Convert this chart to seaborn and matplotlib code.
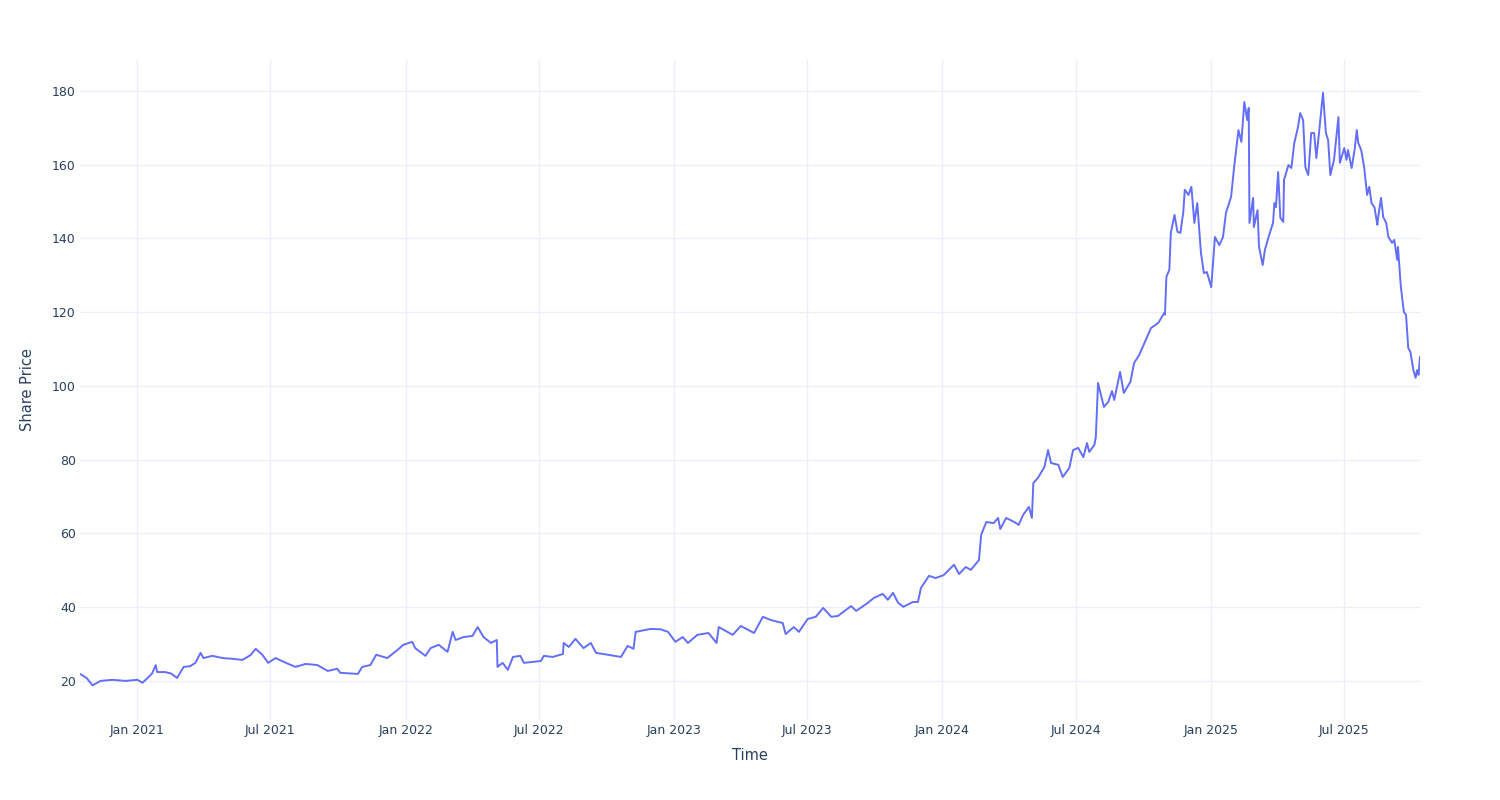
import pandas as pd
import matplotlib
matplotlib.use('Agg')
import matplotlib.pyplot as plt
import matplotlib.dates as mdates
import seaborn as sns

# values
dates = [
    '2020-10-15', '2020-10-24', '2020-11-01', '2020-11-12', '2020-11-28', '2020-12-16',
    '2021-01-01', '2021-01-08', '2021-01-15', '2021-01-21', '2021-01-26', '2021-01-28',
    '2021-02-08', '2021-02-16', '2021-02-24', '2021-03-05', '2021-03-14', '2021-03-21',
    '2021-03-28', '2021-04-01', '2021-04-13', '2021-04-27', '2021-05-10', '2021-05-24',
    '2021-06-04', '2021-06-11', '2021-06-20', '2021-06-28', '2021-07-08', '2021-07-21',
    '2021-08-04', '2021-08-18', '2021-09-03', '2021-09-17', '2021-09-30', '2021-10-04',
    '2021-10-28', '2021-11-03', '2021-11-14', '2021-11-22', '2021-12-07', '2021-12-21',
    '2021-12-29',
    '2022-01-10', '2022-01-14', '2022-01-28', '2022-02-04', '2022-02-15', '2022-02-27',
    '2022-03-06', '2022-03-10', '2022-03-21', '2022-04-02', '2022-04-09', '2022-04-17',
    '2022-04-27', '2022-05-05', '2022-05-06', '2022-05-13', '2022-05-20', '2022-05-27',
    '2022-06-06', '2022-06-11', '2022-07-04', '2022-07-08', '2022-07-20', '2022-08-03',
    '2022-08-04', '2022-08-11', '2022-08-20', '2022-08-31', '2022-09-10', '2022-09-17',
    '2022-10-03', '2022-10-21', '2022-10-30', '2022-11-07', '2022-11-10', '2022-11-30',
    '2022-12-14', '2022-12-24',
    '2023-01-03', '2023-01-13', '2023-01-20', '2023-02-02', '2023-02-17', '2023-02-28',
    '2023-03-03', '2023-03-22', '2023-04-02', '2023-04-20', '2023-05-02', '2023-05-13',
    '2023-05-29', '2023-06-02', '2023-06-13', '2023-06-20', '2023-07-02', '2023-07-13',
    '2023-07-23', '2023-08-03', '2023-08-12', '2023-08-30', '2023-09-06', '2023-09-22',
    '2023-09-30', '2023-10-12', '2023-10-19', '2023-10-26', '2023-11-02', '2023-11-09',
    '2023-11-22', '2023-11-29', '2023-12-03', '2023-12-14', '2023-12-23',
    '2024-01-03', '2024-01-17', '2024-01-24', '2024-02-02', '2024-02-09', '2024-02-20',
    '2024-02-23', '2024-03-01', '2024-03-11', '2024-03-17', '2024-03-20', '2024-03-28',
    '2024-04-08', '2024-04-14', '2024-04-20', '2024-04-28', '2024-05-02', '2024-05-04',
    '2024-05-10', '2024-05-19', '2024-05-24', '2024-05-28', '2024-06-07', '2024-06-13',
    '2024-06-22', '2024-06-27', '2024-07-04', '2024-07-11', '2024-07-16', '2024-07-19',
    '2024-07-26', '2024-07-28', '2024-07-31', '2024-08-08', '2024-08-14', '2024-08-19',
    '2024-08-22', '2024-08-30', '2024-09-04', '2024-09-13', '2024-09-18', '2024-09-25',
    '2024-10-04', '2024-10-11', '2024-10-21', '2024-10-29', '2024-10-30', '2024-11-01',
    '2024-11-05', '2024-11-07', '2024-11-12', '2024-11-16', '2024-11-20', '2024-11-24',
    '2024-11-26', '2024-12-01', '2024-12-05', '2024-12-09', '2024-12-13', '2024-12-18',
    '2024-12-22', '2024-12-26',
    '2025-01-01', '2025-01-06', '2025-01-12', '2025-01-17', '2025-01-21', '2025-01-28',
    '2025-02-01', '2025-02-07', '2025-02-11', '2025-02-15', '2025-02-19', '2025-02-21',
    '2025-02-22', '2025-02-27', '2025-02-28', '2025-03-05', '2025-03-07', '2025-03-12',
    '2025-03-15', '2025-03-20', '2025-03-26', '2025-03-28', '2025-03-30', '2025-04-02',
    '2025-04-05', '2025-04-09', '2025-04-10', '2025-04-16', '2025-04-20', '2025-04-24',
    '2025-04-29', '2025-05-02', '2025-05-06', '2025-05-09', '2025-05-13', '2025-05-17',
    '2025-05-21', '2025-05-24', '2025-05-28', '2025-06-02', '2025-06-06', '2025-06-09',
    '2025-06-12', '2025-06-17', '2025-06-23', '2025-06-25', '2025-07-01', '2025-07-04',
    '2025-07-06', '2025-07-11', '2025-07-15', '2025-07-18', '2025-07-20', '2025-07-24',
    '2025-07-28', '2025-08-01', '2025-08-04', '2025-08-07', '2025-08-11', '2025-08-15',
    '2025-08-16', '2025-08-20', '2025-08-23', '2025-08-27', '2025-08-30', '2025-09-04',
    '2025-09-07', '2025-09-11', '2025-09-12', '2025-09-16', '2025-09-20', '2025-09-23',
    '2025-09-26', '2025-09-29', '2025-10-03', '2025-10-06', '2025-10-08', '2025-10-10',
    '2025-10-12',
]

prices = [
    21.9, 20.8, 18.8, 20.0, 20.3, 20.0,
    20.3, 19.5, 20.8, 22.0, 24.3, 22.4,
    22.4, 22.0, 20.8, 23.8, 24.0, 24.9,
    27.6, 26.2, 26.8, 26.2, 26.0, 25.7,
    27.0, 28.7, 27.1, 24.9, 26.2, 25.0,
    23.8, 24.6, 24.3, 22.7, 23.3, 22.2,
    21.9, 23.8, 24.3, 27.1, 26.2, 28.4,
    29.8,
    30.6, 28.9, 26.8, 28.9, 29.8, 27.9,
    33.3, 31.1, 31.9, 32.2, 34.6, 31.9,
    30.3, 31.1, 23.8, 24.9, 23.0, 26.5,
    26.8, 24.9, 25.4, 26.8, 26.5, 27.3,
    30.3, 29.2, 31.4, 28.9, 30.3, 27.6,
    27.1, 26.5, 29.5, 28.7, 33.3, 34.1,
    34.0, 33.3,
    30.6, 31.9, 30.3, 32.5, 33.0, 30.3,
    34.6, 32.5, 34.9, 33.0, 37.4, 36.5,
    35.7, 32.7, 34.6, 33.3, 36.8, 37.4,
    39.8, 37.4, 37.6, 40.3, 39.0, 41.2,
    42.5, 43.6, 42.0, 43.9, 41.2, 40.1,
    41.4, 41.4, 45.2, 48.5, 47.9,
    48.7, 51.5, 49.0, 50.9, 50.1, 52.8,
    59.6, 63.1, 62.8, 64.2, 61.2, 64.2,
    63.1, 62.3, 65.0, 67.2, 64.2, 73.7,
    75.0, 78.0, 82.6, 79.1, 78.6, 75.3,
    77.8, 82.6, 83.2, 80.7, 84.5, 82.1,
    84.0, 86.2, 100.8, 94.3, 95.7, 98.6,
    96.2, 103.8, 98.1, 101.1, 106.2, 108.4,
    112.5, 115.7, 117.1, 119.8, 119.3, 129.6,
    131.5, 141.5, 146.4, 141.8, 141.5, 147.2,
    153.2, 151.8, 154.0, 144.2, 149.6, 136.1,
    130.6, 130.9,
    126.8, 140.4, 138.2, 140.4, 146.9, 151.3,
    159.1, 169.4, 166.2, 177.0, 172.1, 175.4,
    144.2, 151.0, 143.1, 147.7, 137.7, 132.8,
    136.9, 140.4, 144.2, 149.6, 148.5, 158.0,
    145.6, 144.5, 155.9, 159.9, 159.1, 165.9,
    170.2, 174.0, 172.1, 159.4, 157.2, 168.6,
    168.6, 161.8, 169.4, 179.5, 168.6, 166.7,
    157.2, 161.3, 172.9, 160.5, 164.5, 161.3,
    164.0, 159.1, 164.0, 169.4, 165.9, 164.0,
    159.4, 151.8, 154.0, 149.6, 148.5, 143.7,
    145.6, 151.0, 145.8, 144.2, 140.4, 138.8,
    139.6, 134.2, 137.7, 126.8, 120.1, 119.3,
    110.3, 109.2, 104.3, 102.2, 104.3, 103.0,
    107.9,
]

y_ticks = [20, 40, 60, 80, 100, 120, 140, 160, 180]
x_ticks = ['2021-01-01', '2021-07-01', '2022-01-01', '2022-07-01', '2023-01-01',
           '2023-07-01', '2024-01-01', '2024-07-01', '2025-01-01', '2025-07-01']

df = pd.DataFrame({'Time': pd.to_datetime(dates), 'Share Price': prices})

sns.set_style('white')
plt.rcParams['font.family'] = ['DejaVu Sans']
text_color = '#2a3f5f'
grid_color = '#EBF0F8'

fig = plt.figure(figsize=(15, 8), dpi=100)
ax = fig.add_axes([80 / 1500, 80 / 800, 1340 / 1500, 660 / 800])

sns.lineplot(data=df, x='Time', y='Share Price', color='#636EFA', linewidth=1.4, ax=ax)

ax.set_xlim(df['Time'].min(), df['Time'].max())
ax.set_ylim(9.4, 188.4)
ax.set_yticks(y_ticks)
ax.set_xticks(pd.to_datetime(x_ticks))
ax.xaxis.set_major_formatter(mdates.DateFormatter('%b %Y'))

ax.grid(True, color=grid_color, linewidth=1)
ax.set_axisbelow(True)
for s in ax.spines.values():
    s.set_visible(False)
ax.tick_params(length=0, labelsize=9, labelcolor=text_color, pad=3)

ax.set_xlabel('Time', fontsize=10.5, color=text_color, labelpad=8)
ax.set_ylabel('Share Price', fontsize=10.5, color=text_color, labelpad=12)

fig.savefig('out.png', dpi=100, facecolor='white')
